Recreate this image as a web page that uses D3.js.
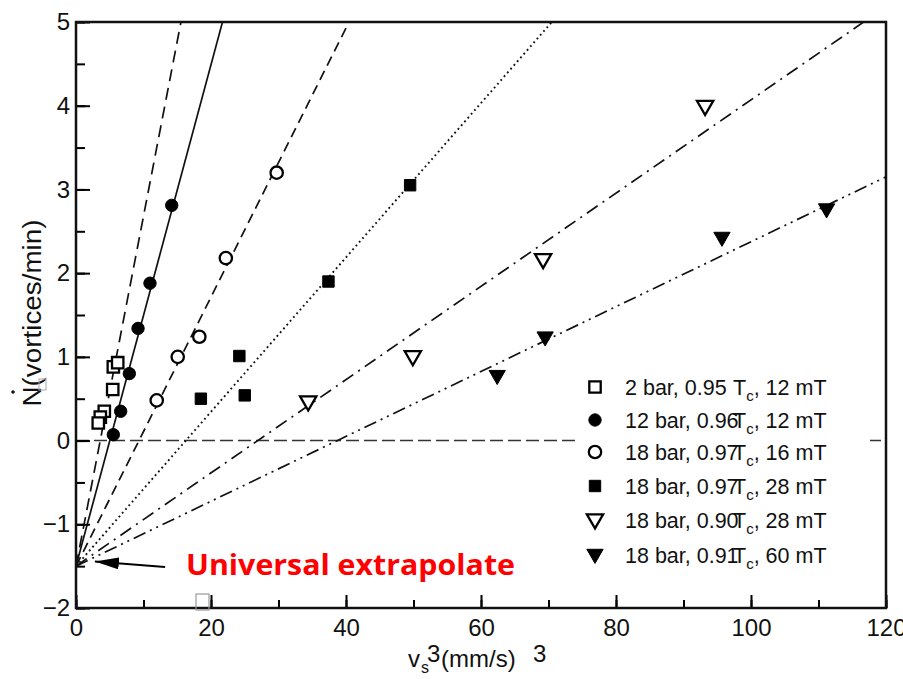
<!DOCTYPE html>
<html><head><meta charset="utf-8">
<script src="https://cdn.jsdelivr.net/npm/d3@7"></script>
<style>body{margin:0;background:#fff}svg{display:block}</style>
</head><body>
<svg id="c" width="903" height="679"></svg>
<script>
// ---------- data ----------
const xTicks = [0, 20, 40, 60, 80, 100, 120];
const yTicks = [-2, -1, 0, 1, 2, 3, 4, 5];
const seriesLabels = ["2 bar, 0.95", "12 bar, 0.96", "18 bar, 0.97", "18 bar, 0.97", "18 bar, 0.90", "18 bar, 0.91"];
const seriesFields = [", 12 mT", ", 12 mT", ", 16 mT", ", 28 mT", ", 28 mT", ", 60 mT"];

const bar2_x = [5.53, 6.18, 5.44, 4.19, 3.6, 3.3];
const bar2_y = [0.88, 0.93, 0.61, 0.35, 0.28, 0.21];
const bar12_x = [14.18, 10.96, 9.19, 7.9, 6.62, 5.53];
const bar12_y = [2.81, 1.88, 1.34, 0.80, 0.35, 0.07];
const bar18a_x = [29.73, 22.2, 18.27, 15.07, 11.96];
const bar18a_y = [3.20, 2.18, 1.24, 1.00, 0.48];
const bar18b_x = [49.5, 37.4, 24.2, 25.0, 18.5];
const bar18b_y = [3.05, 1.90, 1.01, 0.54, 0.50];
const bar18c_x = [34.4, 49.9, 69.2, 93.2];
const bar18c_y = [0.46, 1.00, 2.16, 3.99];
const bar18d_x = [62.4, 69.5, 95.7, 111.2];
const bar18d_y = [0.77, 1.23, 2.42, 2.76];

const fitSlopes = [0.418, 0.2995, 0.1607, 0.0922, 0.0557, 0.03875];
const fitIntercept = -1.5;

// ---------- layout ----------
const svg = d3.select("#c");
const L = 76, R = 886, T = 22, B = 608;
const x = d3.scaleLinear().domain([0, 120]).range([L, R]);
const y = d3.scaleLinear().domain([-2, 5]).range([B, T]);
const FONT = "'Liberation Sans', Arial, sans-serif";

const series = [
  {xs: bar2_x, ys: bar2_y, shape: "square", fill: false, dash: "12,7", w: 1.7},
  {xs: bar12_x, ys: bar12_y, shape: "circle", fill: true, dash: null, w: 1.7},
  {xs: bar18a_x, ys: bar18a_y, shape: "circle", fill: false, dash: "10,6", w: 1.7},
  {xs: bar18b_x, ys: bar18b_y, shape: "square", fill: true, dash: "1.8,3.2", w: 1.9},
  {xs: bar18c_x, ys: bar18c_y, shape: "tri", fill: false, dash: "13,6,2,6", w: 1.7},
  {xs: bar18d_x, ys: bar18d_y, shape: "tri", fill: true, dash: "13,5,2,5,2,5", w: 1.7}
];

svg.append("defs").append("clipPath").attr("id", "plot")
  .append("rect").attr("x", L).attr("y", T).attr("width", R - L).attr("height", B - T);

// zero line
svg.append("line")
  .attr("x1", x(0)).attr("x2", x(120)).attr("y1", y(0)).attr("y2", y(0))
  .attr("stroke", "#333").attr("stroke-width", 1.5).attr("stroke-dasharray", "13,5");

// fit lines
const gLines = svg.append("g").attr("clip-path", "url(#plot)");
series.forEach((s, i) => {
  const m = fitSlopes[i];
  gLines.append("line")
    .attr("x1", x(0)).attr("y1", y(fitIntercept))
    .attr("x2", x(120)).attr("y2", y(fitIntercept + m * 120))
    .attr("stroke", "#111").attr("stroke-width", s.w)
    .attr("stroke-dasharray", s.dash);
});

function symbolPath(shape) {
  if (shape === "square") return d3.symbol(d3.symbolSquare, 130)();
  if (shape === "circle") return d3.symbol(d3.symbolCircle, 120)();
  return d3.symbol(d3.symbolTriangle, 115)();
}
function drawMarker(g, shape, fill, cx, cy) {
  const rot = shape === "tri" ? " rotate(180)" : "";
  const dy = shape === "tri" ? -1 : 0;
  g.append("path").attr("d", symbolPath(shape))
    .attr("transform", `translate(${cx},${cy + dy})${rot}`)
    .attr("fill", fill ? "#000" : "#fff")
    .attr("stroke", "#000").attr("stroke-width", fill ? 1 : 2.3);
}

// points
const gPts = svg.append("g");
series.forEach(s => {
  s.xs.forEach((xv, j) => drawMarker(gPts, s.shape, s.fill, x(xv), y(s.ys[j])));
});

// legend
const legY = [387, 420, 452, 486, 520, 555];
svg.append("rect").attr("x", 580).attr("y", 370).attr("width", 290).attr("height", 200).attr("fill", "#fff");
series.forEach((s, i) => {
  drawMarker(svg, s.shape, s.fill, 595, legY[i]);
  svg.append("text").attr("x", 625).attr("y", legY[i] + 8)
    .attr("font-family", FONT).attr("font-size", 21.5).attr("fill", "#111")
    .text(seriesLabels[i]);
  const t = svg.append("text").attr("x", 733).attr("y", legY[i] + 8)
    .attr("font-family", FONT).attr("font-size", 21.5).attr("fill", "#111");
  t.append("tspan").text("T");
  t.append("tspan").attr("font-size", 15).attr("dy", 6).text("c");
  t.append("tspan").attr("dy", -6).text(seriesFields[i]);
});

// axes
const xMinor = d3.range(0, 121, 10);
const yMinor = d3.range(-2, 5.01, 0.5);
svg.append("g").attr("transform", `translate(0,${B})`)
  .call(d3.axisBottom(x).tickValues(xTicks).tickSize(-13).tickPadding(11).tickFormat(d3.format("d")));
svg.append("g").attr("transform", `translate(0,${B})`)
  .call(d3.axisBottom(x).tickValues(xMinor).tickSize(-8).tickFormat(""));
svg.append("g").attr("transform", `translate(${L},0)`)
  .call(d3.axisLeft(y).tickValues(yTicks).tickSize(-14).tickPadding(6).tickFormat(d3.format("d")));
svg.append("g").attr("transform", `translate(${L},0)`)
  .call(d3.axisLeft(y).tickValues(yMinor).tickSize(-9).tickFormat(""));
svg.selectAll(".domain").remove();
svg.selectAll(".tick line").attr("stroke", "#000").attr("stroke-width", 2);
svg.selectAll(".tick text").attr("font-family", FONT).attr("font-size", 24).attr("fill", "#111");

// frame
svg.append("rect").attr("x", L).attr("y", T).attr("width", R - L).attr("height", B - T)
  .attr("fill", "none").attr("stroke", "#111").attr("stroke-width", 2.5);

// axis titles
svg.append("text").attr("transform", "translate(41,313) rotate(-90)")
  .attr("text-anchor", "middle").attr("font-family", FONT).attr("font-size", 26).attr("fill", "#111")
  .attr("textLength", 187).attr("lengthAdjust", "spacingAndGlyphs")
  .text("N(vortices/min)");
svg.append("circle").attr("cx", 13).attr("cy", 392).attr("r", 1.8).attr("fill", "#111");

const xl = svg.append("g").attr("font-family", FONT).attr("fill", "#111");
xl.append("text").attr("x", 408).attr("y", 667).attr("font-size", 24).text("v");
xl.append("text").attr("x", 421).attr("y", 673).attr("font-size", 16).text("s");
xl.append("text").attr("x", 427).attr("y", 662).attr("font-size", 24).text("3");
xl.append("text").attr("x", 441).attr("y", 667).attr("font-size", 24).text("(mm/s)");
xl.append("text").attr("x", 533).attr("y", 662).attr("font-size", 24).text("3");

// annotation
svg.append("defs").append("marker").attr("id", "ah").attr("viewBox", "0 0 24 12")
  .attr("refX", 24).attr("refY", 6).attr("markerWidth", 24).attr("markerHeight", 12)
  .attr("markerUnits", "userSpaceOnUse").attr("orient", "auto")
  .append("path").attr("d", "M0,0 L24,6 L0,12 Z").attr("fill", "#000");
svg.append("line").attr("x1", x(13.2)).attr("y1", y(-1.51)).attr("x2", x(2.8)).attr("y2", y(-1.445))
  .attr("stroke", "#000").attr("stroke-width", 2).attr("marker-end", "url(#ah)");
svg.append("text").attr("x", 186).attr("y", 575)
  .attr("font-family", "'Open Sans', Lato, sans-serif").attr("font-weight", "bold").attr("font-size", 29)
  .attr("fill", "#ff0000").attr("textLength", 329).attr("lengthAdjust", "spacingAndGlyphs")
  .text("Universal extrapolate");

// small grey placeholder boxes seen in the source
svg.append("rect").attr("x", 196).attr("y", 594).attr("width", 13).attr("height", 16)
  .attr("fill", "none").attr("stroke", "#999").attr("stroke-width", 1.2);
svg.append("rect").attr("x", 39).attr("y", 379).attr("width", 7).attr("height", 11)
  .attr("fill", "none").attr("stroke", "#aaa").attr("stroke-width", 1);
</script>
</body></html>
